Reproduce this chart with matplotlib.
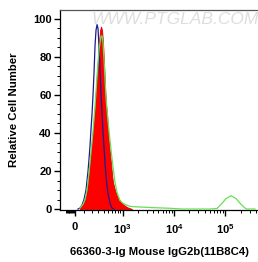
import numpy as np
import matplotlib
matplotlib.use('Agg')
import matplotlib.pyplot as plt
from matplotlib.ticker import FixedLocator, FixedFormatter

plt.rcParams['font.family'] = 'Liberation Sans'
plt.rcParams['font.weight'] = 'bold'
plt.rcParams['mathtext.fontset'] = 'custom'
plt.rcParams['mathtext.rm'] = 'Liberation Sans:bold'
plt.rcParams['mathtext.it'] = 'Liberation Sans:bold'
plt.rcParams['mathtext.bf'] = 'Liberation Sans:bold'

# isotype control (blue line)
blue_x = [32, 54, 76, 99, 123, 148, 160, 173, 187, 201, 215, 230, 245, 260, 277, 293,
          311, 329, 347, 367, 387, 408, 429, 452, 475, 499, 550, 606, 666]
blue_y = [0, 0.5, 2, 5, 10, 20, 26, 33, 42, 50, 60, 72, 86, 94, 97, 95,
          85, 72, 60, 50, 40, 32, 24, 17, 12, 8, 3, 0.5, 0]

# filled histogram (red)
red_x = [54, 88, 111, 135, 160, 187, 215, 245, 277, 311, 329, 347, 367, 387, 408, 429,
         452, 475, 499, 524, 550, 578, 606, 635, 698, 765, 878, 1012, 1217, 1524]
red_y = [0.5, 2.6, 5, 10, 20, 31, 42, 55, 72, 88, 94, 96, 94, 87, 76, 64,
         55, 50, 40, 34, 29, 24, 18, 14, 10, 7, 4.5, 2.5, 1, 0]

# antibody sample (green line)
green_x = [54, 88, 111, 135, 160, 187, 215, 245, 277, 311, 347, 367, 387, 408, 429, 452,
           499, 550, 578, 635, 698, 765, 839, 878, 1012, 1217, 1393, 1746, 2504, 3427,
           5361, 8388, 14350, 50160, 68640, 85820, 102650, 128350, 160460, 200640,
           239900, 262300, 375100]
green_y = [0.5, 2.5, 5, 10, 19, 30, 41, 54, 70, 84, 91, 91, 87, 78, 68, 58,
           46, 36, 31, 22, 14, 9, 6, 4.5, 3, 2, 1.4, 1.2, 1, 0.8,
           0.6, 0.4, 0, 0, 0.3, 3, 5.5, 7, 5.5, 2.5,
           0.5, 0, 0]

x_major = [0, 1e3, 1e4, 1e5]
x_major_labels = ['0', r'$10^3$', r'$10^4$', r'$10^5$']
y_major = [0, 20, 40, 60, 80, 100]

W = 240.0
def fwd(x):
    return np.arcsinh(np.asarray(x) / W) / np.log(10)
def inv(y):
    return W * np.sinh(np.asarray(y) * np.log(10))

fig = plt.figure(figsize=(2.58, 2.62), dpi=100)
ax = fig.add_axes([0.2326, 0.1985, 0.7674, 0.7633])
ax.set_xscale('function', functions=(fwd, inv))

ax.fill_between(red_x, red_y, 0, color='#ff0000', lw=0.6, edgecolor='#e00000', zorder=2)
ax.plot(blue_x, blue_y, color='#1c1c8e', lw=0.9, zorder=3)
ax.plot(green_x, green_y, color='#66e052', lw=0.9, zorder=4)

ax.set_xlim(-173, 4.29e5)
ax.set_ylim(-0.5, 104.7)

minor_x = [-v for v in range(10, 110, 10)]
minor_x += [v for v in range(100, 1000, 100)]
minor_x += [v for v in range(2000, 10000, 1000)]
minor_x += [v for v in range(20000, 100000, 10000)]
minor_x += [200000, 300000, 400000]
ax.xaxis.set_major_locator(FixedLocator(x_major))
ax.xaxis.set_major_formatter(FixedFormatter(x_major_labels))
ax.xaxis.set_minor_locator(FixedLocator(minor_x))
ax.yaxis.set_major_locator(FixedLocator(y_major))
ax.yaxis.set_minor_locator(FixedLocator(list(range(5, 105, 5))))

ax.tick_params(axis='both', which='major', length=4, width=1, labelsize=8, pad=2)
ax.tick_params(axis='both', which='minor', length=2.2, width=0.7)
ax.tick_params(axis='x', which='major', pad=5)
ax.spines['right'].set_visible(False)
for s in ['left', 'bottom', 'top']:
    ax.spines[s].set_linewidth(0.9)
ax.spines['top'].set_color('#555555')

ax.set_ylabel('Relative Cell Number', fontsize=8.2, fontweight='bold', labelpad=10)
ax.set_xlabel('66360-3-Ig Mouse IgG2b(11B8C4)', fontsize=8.2, fontweight='bold', labelpad=8)

ax.text(0.58, 0.955, 'WWW.PTGLAB.COM', transform=ax.transAxes, ha='center', va='center',
        fontsize=12.5, style='italic', fontweight='normal', color='#dedede', zorder=1)

fig.savefig('out.png', dpi=100)
